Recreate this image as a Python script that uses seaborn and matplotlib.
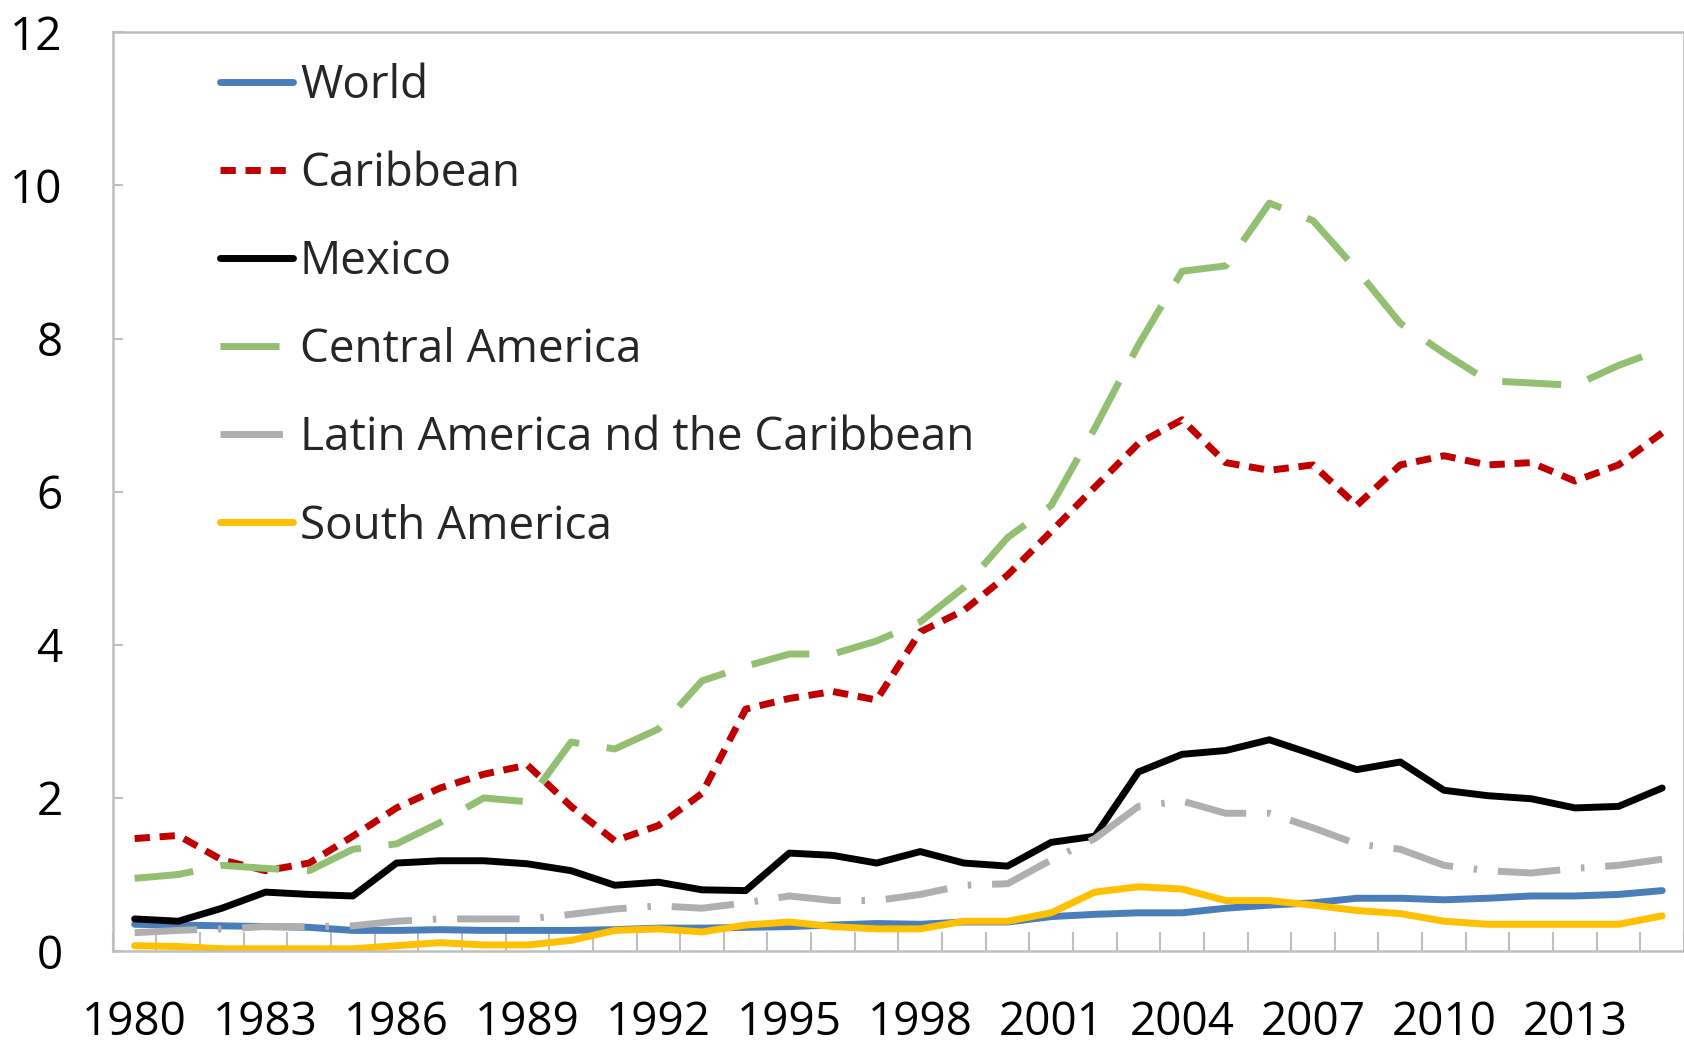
import pandas as pd
import matplotlib.pyplot as plt
import seaborn as sns

years = list(range(1980, 2016))

world = [0.35, 0.34, 0.33, 0.32, 0.31, 0.27, 0.27, 0.28, 0.27, 0.27,
         0.27, 0.28, 0.30, 0.30, 0.31, 0.32, 0.34, 0.36, 0.35, 0.38,
         0.38, 0.45, 0.48, 0.50, 0.50, 0.56, 0.60, 0.63, 0.69, 0.69,
         0.67, 0.69, 0.72, 0.72, 0.74, 0.79]
caribbean = [1.47, 1.51, 1.19, 1.05, 1.15, 1.50, 1.87, 2.13, 2.31, 2.43,
             1.89, 1.44, 1.64, 2.06, 3.16, 3.30, 3.39, 3.28, 4.17, 4.45,
             4.91, 5.48, 6.06, 6.63, 6.94, 6.38, 6.28, 6.35, 5.82, 6.35,
             6.47, 6.35, 6.38, 6.14, 6.35, 6.77]
mexico = [0.42, 0.39, 0.56, 0.77, 0.74, 0.72, 1.15, 1.18, 1.18, 1.14,
          1.05, 0.86, 0.90, 0.80, 0.79, 1.28, 1.25, 1.15, 1.30, 1.15,
          1.11, 1.42, 1.50, 2.34, 2.57, 2.62, 2.76, 2.57, 2.37, 2.47,
          2.10, 2.03, 1.99, 1.87, 1.89, 2.13]
central_america = [0.95, 1.00, 1.12, 1.08, 1.05, 1.33, 1.40, 1.68, 2.00, 1.95,
                   2.73, 2.64, 2.90, 3.53, 3.72, 3.88, 3.88, 4.05, 4.30, 4.75,
                   5.40, 5.82, 6.83, 7.92, 8.88, 8.95, 9.77, 9.54, 8.90, 8.20,
                   7.81, 7.45, 7.42, 7.39, 7.65, 7.86]
latin_america = [0.24, 0.27, 0.29, 0.32, 0.32, 0.33, 0.39, 0.42, 0.42, 0.42,
                 0.48, 0.55, 0.59, 0.56, 0.63, 0.72, 0.66, 0.66, 0.74, 0.86,
                 0.88, 1.19, 1.47, 1.89, 1.96, 1.80, 1.80, 1.61, 1.40, 1.33,
                 1.12, 1.05, 1.02, 1.08, 1.12, 1.20]
south_america = [0.07, 0.06, 0.03, 0.03, 0.03, 0.03, 0.07, 0.11, 0.08, 0.08,
                 0.14, 0.27, 0.29, 0.25, 0.34, 0.38, 0.32, 0.29, 0.29, 0.39,
                 0.39, 0.50, 0.77, 0.84, 0.81, 0.66, 0.66, 0.60, 0.53, 0.49,
                 0.39, 0.35, 0.35, 0.35, 0.35, 0.46]

labels = ["World", "Caribbean", "Mexico", "Central America",
          "Latin America nd the Caribbean", "South America"]
series = [world, caribbean, mexico, central_america, latin_america, south_america]
colors = ["#4A7EBB", "#C00000", "#000000", "#93BF72", "#AFAFAF", "#FFC000"]
dashes = [None, (2.2, 1.4), None, (8.5, 4), (9, 3, 0.5, 3), None]

sns.set_style("white")
plt.rcParams['font.family'] = ['Open Sans', 'DejaVu Sans']
plt.rcParams['xtick.bottom'] = True
plt.rcParams['ytick.left'] = True

fig = plt.figure(figsize=(16.84, 10.44), dpi=100)
ax = fig.add_axes([0.067, 0.089, 0.933, 0.880])

for lab, vals, col, d in zip(labels, series, colors, dashes):
    df = pd.DataFrame({"year": years, "value": vals})
    sns.lineplot(data=df, x="year", y="value", ax=ax, color=col,
                 linewidth=5, label=lab)
    ln = ax.get_lines()[-1]
    if d is not None:
        ln.set_dashes(d)

ax.set_xlim(1979.5, 2015.5)
ax.set_ylim(0, 12)
ax.set_xlabel("")
ax.set_ylabel("")
ax.set_xticks(list(range(1980, 2016, 3)))
ax.set_xticks([y + 0.5 for y in range(1979, 2016)], minor=True)
ax.set_yticks(range(0, 13, 2))
ax.tick_params(axis="x", which="major", length=0, pad=35, labelsize=33, colors="#000000")
ax.tick_params(axis="x", which="minor", direction="in", length=14, width=1.5,
               color="#BFBFBF", bottom=True)
ax.tick_params(axis="y", which="major", direction="in", length=7, width=1.5,
               color="#BFBFBF", pad=36, labelsize=33, left=True, labelcolor="#000000")
for sp in ax.spines.values():
    sp.set_color("#BFBFBF")
    sp.set_linewidth(1.8)

leg = ax.legend(loc="upper left", bbox_to_anchor=(0.068, 0.967), frameon=False,
                fontsize=33, handlelength=1.6, handletextpad=0.15,
                labelspacing=0.92, borderpad=0, borderaxespad=0)

fig.savefig("out.png", dpi=100)
